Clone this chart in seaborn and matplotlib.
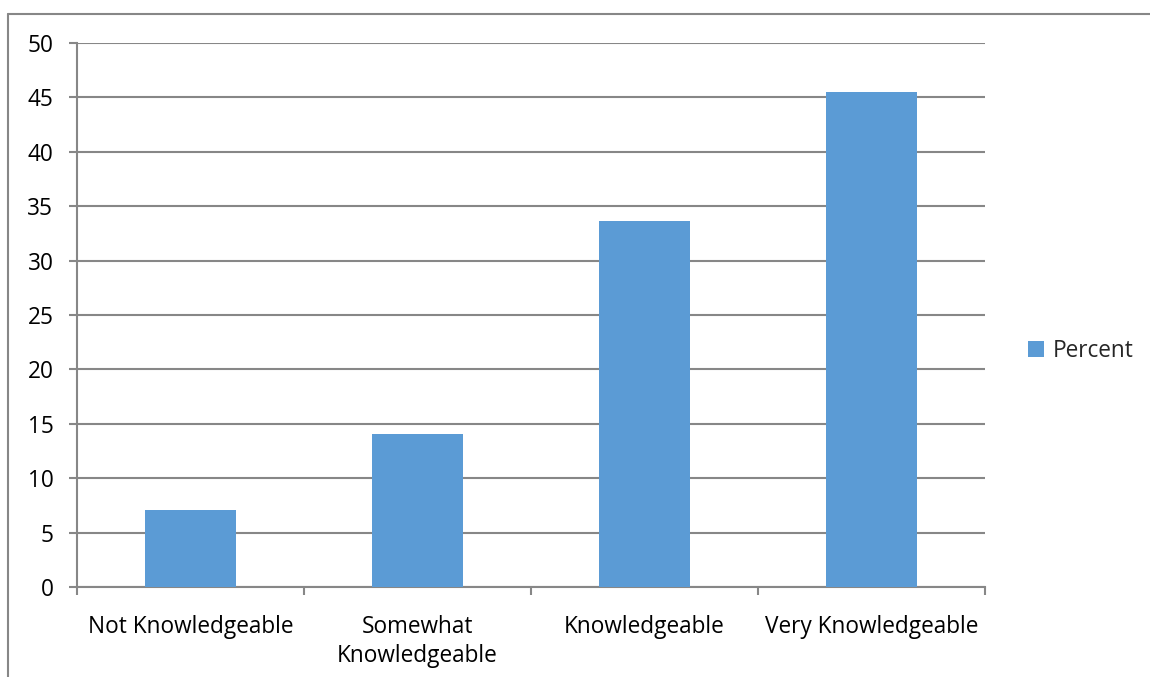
import matplotlib
matplotlib.use("Agg")
import matplotlib.pyplot as plt
from matplotlib.lines import Line2D
from matplotlib.ticker import FixedLocator
import seaborn as sns
import pandas as pd

categories = ["Not Knowledgeable", "Somewhat\nKnowledgeable", "Knowledgeable", "Very Knowledgeable"]
values = [7.1, 14.1, 33.6, 45.5]
series_name = "Percent"
y_ticks = [0, 5, 10, 15, 20, 25, 30, 35, 40, 45, 50]

sns.set_theme(style="white")
plt.rcParams['font.family'] = ['Open Sans', 'DejaVu Sans']

GRAY = "#878787"
BLUE = "#5B9BD5"
FS = 16.3

fig = plt.figure(figsize=(11.5, 6.77), dpi=100)
ax = fig.add_axes([77/1150, 1-587/677, (985-77)/1150, (587-43)/677])

df = pd.DataFrame({"category": categories, "value": values})
sns.barplot(data=df, x="category", y="value", color=BLUE, width=0.4,
            saturation=1, label=series_name, ax=ax, zorder=3, linewidth=0)

ax.set_ylim(0, 50)
ax.set_xlim(-0.5, 3.5)
ax.set_yticks(y_ticks)
ax.set_xlabel("")
ax.set_ylabel("")
ax.yaxis.grid(True, color=GRAY, linewidth=1.5, zorder=0)
ax.set_axisbelow(True)
for s in ["top", "right"]:
    ax.spines[s].set_visible(False)
for s in ["left", "bottom"]:
    ax.spines[s].set_color(GRAY)
    ax.spines[s].set_linewidth(1.5)

ax.tick_params(axis="y", length=6, width=1.5, color=GRAY, pad=11, labelsize=FS, labelcolor="black", left=True)
ax.tick_params(axis="x", which="major", length=0, pad=20, labelsize=FS, labelcolor="black")
ax.xaxis.set_minor_locator(FixedLocator([-0.5, 0.5, 1.5, 2.5, 3.5]))
ax.tick_params(axis="x", which="minor", length=6, width=1.5, color=GRAY, bottom=True)
for lbl in ax.get_xticklabels():
    lbl.set_linespacing(1.3)

leg = ax.legend(loc="center left", bbox_to_anchor=(1.025, 0.434), frameon=False,
                fontsize=FS, handlelength=0.7, handleheight=0.7, handletextpad=0.4)

# outer chart border (partially visible)
fig.add_artist(Line2D([8/1150, 8/1150], [0, 1-14/677], transform=fig.transFigure, color=GRAY, linewidth=1.5))
fig.add_artist(Line2D([8/1150, 1], [1-14/677, 1-14/677], transform=fig.transFigure, color=GRAY, linewidth=1.5))

fig.savefig("out.png", dpi=100)
